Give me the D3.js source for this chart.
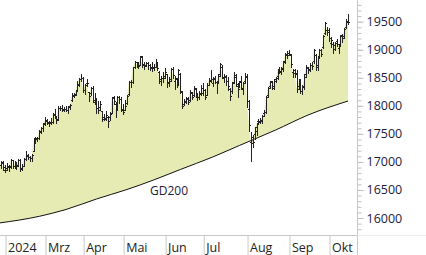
<!DOCTYPE html>
<html><head><meta charset="utf-8">
<script src="https://cdn.jsdelivr.net/npm/d3@7"></script>
<style>
body{margin:0;background:#fff;}
svg{display:block;font-family:"Open Sans",sans-serif;}
</style>
</head><body>
<svg id="c" width="426" height="255"></svg>
<script>
// Daily OHLC values (trading days, late Jan 2024 to mid Oct 2024)
const open = [16940,16950,16990,16860,16900,16930,16920,17030,16930,16960,16940,17030,16890,16930,17050,17110,17090,17070,17200,17380,17400,17430,17540,17600,17690,17740,17700,17710,17720,17850,17790,17770,17970,17960,17930,17940,17920,17990,18100,18190,18200,18280,18380,18480,18500,18280,18400,18250,18220,18320,18100,18100,17960,17980,17900,17800,17780,17800,17800,17880,18150,18030,17950,18150,18120,17950,17930,18050,18210,18420,18430,18700,18780,18740,18730,18880,18730,18720,18760,18720,18700,18680,18700,18770,18610,18450,18500,18530,18560,18430,18470,18650,18450,18470,18400,18560,18240,18030,18080,18130,18100,18220,18200,18300,18180,18160,18230,18320,18280,18200,18380,18460,18400,18490,18420,18420,18560,18700,18500,18530,18440,18300,18270,18420,18520,18360,18360,18450,18300,18450,18530,17950,17350,17440,17500,17550,17730,17720,17740,17880,17890,18200,18350,18440,18320,18480,18530,18640,18600,18660,18800,18920,18940,18900,18600,18640,18580,18350,18450,18270,18350,18560,18680,18660,18720,18800,18900,18700,18880,18990,19050,19290,19360,19350,19120,19100,19080,19150,19030,19100,19240,19250,19400,19500];
const high = [16990,17010,17020,16950,16980,16950,17060,17040,17010,16990,17060,17050,16960,17070,17200,17140,17110,17140,17420,17440,17450,17570,17620,17700,17800,17760,17730,17780,17880,17950,17800,17990,17990,18020,17980,17990,18000,18030,18230,18230,18290,18440,18500,18570,18510,18390,18480,18250,18330,18350,18220,18140,18080,18090,17900,17860,17900,17810,17890,18160,18170,18060,18180,18180,18150,18030,18100,18200,18440,18460,18700,18800,18790,18780,18890,18890,18790,18790,18780,18740,18790,18740,18840,18780,18620,18540,18600,18680,18560,18510,18680,18690,18530,18500,18650,18580,18270,18120,18160,18150,18290,18250,18360,18310,18220,18260,18380,18400,18300,18400,18490,18640,18510,18540,18440,18570,18770,18720,18560,18550,18520,18310,18430,18610,18560,18400,18450,18530,18430,18590,18560,18100,17540,17480,17620,17700,17770,17780,17830,17930,18180,18330,18440,18450,18470,18520,18650,18690,18690,18800,18940,18970,18990,18920,18660,18660,18640,18480,18480,18370,18560,18720,18700,18770,18790,19020,18930,18870,19010,19010,19260,19490,19410,19390,19230,19130,19140,19190,19090,19270,19280,19390,19540,19630];
const low = [16880,16900,16860,16820,16850,16830,16890,16890,16900,16880,16930,16830,16850,16920,17030,17060,17020,17010,17190,17340,17370,17400,17520,17550,17650,17670,17640,17680,17700,17780,17700,17750,17930,17900,17900,17910,17880,17940,18080,18150,18190,18270,18360,18440,18250,18210,18360,18080,18200,18060,18040,17870,17880,17930,17730,17740,17740,17630,17750,17870,18030,17800,17940,18050,17900,17850,17920,18040,18200,18340,18400,18680,18700,18670,18720,18700,18660,18710,18650,18640,18620,18630,18700,18630,18400,18380,18420,18500,18340,18360,18450,18500,18300,18330,18380,18230,17960,18010,18050,18030,18080,18120,18180,18150,18110,18120,18200,18200,18120,18190,18370,18430,18360,18400,18230,18400,18540,18490,18430,18380,18280,18110,18230,18400,18360,18150,18330,18300,18210,18400,17980,17560,17024,17260,17400,17480,17680,17690,17700,17820,17880,18150,18320,18300,18300,18420,18480,18590,18560,18620,18760,18860,18900,18700,18520,18520,18250,18300,18230,18210,18300,18520,18580,18620,18650,18770,18640,18640,18850,18880,19030,19280,19260,19150,19050,18940,18990,19060,18940,19060,19130,19210,19380,19460];
const close = [16942,16972,16904,16859,16918,16904,17033,16922,16963,16927,17037,16880,16922,17047,17117,17092,17068,17118,17370,17419,17423,17556,17601,17678,17735,17716,17698,17716,17843,17815,17746,17966,17961,17942,17936,17933,17987,18015,18180,18206,18261,18384,18477,18492,18283,18367,18403,18175,18318,18077,18097,17954,17930,18026,17766,17770,17837,17737,17860,18137,18088,17917,18161,18118,17932,17896,18001,18175,18430,18430,18686,18773,18742,18716,18869,18738,18704,18768,18726,18680,18691,18693,18774,18677,18473,18496,18497,18608,18405,18447,18652,18557,18494,18370,18630,18265,18002,18068,18131,18068,18254,18164,18326,18177,18156,18211,18235,18290,18164,18374,18450,18475,18472,18430,18407,18534,18748,18518,18518,18437,18354,18171,18407,18558,18387,18299,18418,18321,18410,18509,18083,17661,17339,17354,17615,17680,17723,17726,17812,17885,18166,18322,18421,18357,18448,18493,18633,18617,18681,18782,18912,18906,18930,18747,18592,18576,18302,18444,18266,18330,18518,18699,18633,18727,18711,19002,18720,18847,18996,18918,19238,19473,19325,19213,19165,19015,19121,19104,19066,19254,19210,19373,19508,19486];

// GD200 (200-day moving average) read at sample trading days
const gdIdx = [0,21,35,51,67,81,95,112,126,134,145,162,183];
const gdVal = [15911,16030,16152,16339,16508,16678,16865,17088,17293,17408,17569,17836,18086];

// Month axis
const monthLabels = ["2024","Mrz","Apr","Mai","Jun","Jul","Aug","Sep","Okt"];
const monthStart = [3,24,44,65,87,107,130,152,173];

// Price axis
const yLabelTicks = [16000,16500,17000,17500,18000,18500,19000,19500];
const yMinorTicks = [15800,15900,16000,16100,16200,16300,16400,16500,16600,16700,16800,16900,17000,17100,17200,17300,17400,17500,17600,17700,17800,17900,18000,18100,18200,18300,18400,18500,18600,18700,18800,18900,19000,19100,19200,19300,19400,19500,19600,19700,19800];

const W = 426, H = 255, plotR = 357, plotB = 235;
const svg = d3.select("#c");
const x = d3.scaleLinear().domain([3,173]).range([5,329]);
const y = d3.scaleLinear().domain([16000,19500]).range([218,21.7]);

const defs = svg.append("defs");
defs.append("clipPath").attr("id","plot").append("rect").attr("x",0).attr("y",0).attr("width",plotR).attr("height",plotB);
const gd = gdIdx.map((d,i)=>[x(d), y(gdVal[i])]);
const gdLine = d3.line().curve(d3.curveMonotoneX);
const gdPath = gdLine(gd);
const lastX = gd[gd.length-1][0], firstX = gd[0][0];
defs.append("clipPath").attr("id","aboveMA").append("path")
  .attr("d", gdPath + `L${lastX},-10L${firstX},-10Z`);
defs.append("clipPath").attr("id","belowMA").append("path")
  .attr("d", gdPath + `L${lastX},${plotB+10}L${firstX},${plotB+10}Z`);

const g = svg.append("g").attr("clip-path","url(#plot)");
const idx = d3.range(close.length);

// fill between price and GD200
g.append("g").attr("clip-path","url(#aboveMA)").append("path")
  .attr("d", d3.area().x(i=>x(i)).y0(plotB+10).y1(i=>y(close[i]))(idx))
  .attr("fill","#e6ebb3");
g.append("g").attr("clip-path","url(#belowMA)").append("path")
  .attr("d", d3.area().x(i=>x(i)).y0(-10).y1(i=>y(close[i]))(idx))
  .attr("fill","#e4b3a3");

// GD200 line
g.append("path").attr("d", gdPath).attr("fill","none").attr("stroke","#111").attr("stroke-width",1);

// OHLC bars
const px = i => Math.round(x(i)) + 0.5;
g.append("path")
  .attr("d", idx.map(i => {
    const xx = px(i);
    const yh = Math.round(y(high[i])), yl = Math.round(y(low[i]));
    const yo = Math.round(y(open[i])) + 0.5, yc = Math.round(y(close[i])) + 0.5;
    return `M${xx},${yh}V${yl+1}M${xx-1.5},${yo}H${xx}M${xx},${yc}H${xx+1.5}`;
  }).join(""))
  .attr("fill","none").attr("stroke","#222").attr("stroke-width",1);

// GD200 label
svg.append("text").attr("x",150).attr("y",194.5).attr("font-size",12).attr("fill","#22223a").text("GD200");

// right axis
svg.append("line").attr("x1",plotR+0.5).attr("x2",plotR+0.5).attr("y1",0).attr("y2",H).attr("stroke","#c8c8c8");
const ax1 = svg.append("g").attr("transform",`translate(${plotR+0.5},0)`)
  .call(d3.axisRight(y).tickValues(yMinorTicks).tickSize(4).tickFormat(""));
ax1.select(".domain").remove();
ax1.selectAll("line").attr("stroke","#c0c0c0");
const ax2 = svg.append("g").attr("transform",`translate(${plotR+0.5},0)`)
  .call(d3.axisRight(y).tickValues(yLabelTicks).tickSize(6).tickPadding(3).tickFormat(d3.format("d")));
ax2.select(".domain").remove();
ax2.selectAll("line").attr("stroke","#c0c0c0");
ax2.selectAll("text").attr("font-size",12.5).attr("font-family","Open Sans").attr("fill","#1c2040");

// bottom axis
svg.append("line").attr("x1",0).attr("x2",plotR).attr("y1",plotB+0.5).attr("y2",plotB+0.5).attr("stroke","#c8c8c8");
svg.append("line").attr("x1",plotR).attr("x2",W).attr("y1",plotB+0.5).attr("y2",plotB+0.5).attr("stroke","#ececec");
const axB = svg.append("g").attr("transform",`translate(0,${plotB})`)
  .call(d3.axisBottom(x).tickValues(monthStart).tickSize(20).tickFormat((d,i)=>monthLabels[i]));
axB.select(".domain").remove();
axB.selectAll("line").attr("stroke","#c8c8c8").attr("transform","translate(0.5,0)");
axB.selectAll("text").attr("text-anchor","start").attr("x",2.5).attr("y",16.5).attr("dy",null)
  .attr("font-size",12.5).attr("font-family","Open Sans").attr("fill","#222");
</script>
</body></html>
